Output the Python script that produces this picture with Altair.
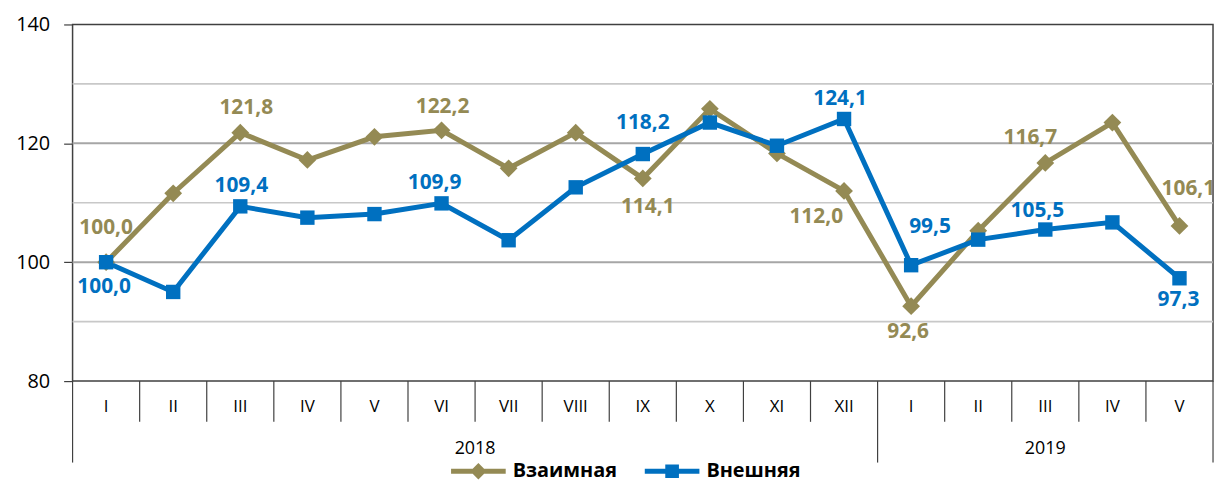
import altair as alt
import pandas as pd

# ---------------- data ----------------
months = ["I", "II", "III", "IV", "V", "VI", "VII", "VIII", "IX", "X", "XI", "XII",
          "I", "II", "III", "IV", "V"]
years = ["2018"] * 12 + ["2019"] * 5
vzaim = [100.0, 111.6, 121.8, 117.2, 121.1, 122.2, 115.8, 121.8, 114.1, 125.8, 118.3,
         112.0, 92.6, 105.3, 116.7, 123.5, 106.1]
vnesh = [100.0, 95.0, 109.4, 107.5, 108.1, 109.9, 103.7, 112.6, 118.2, 123.5, 119.6,
         124.1, 99.5, 103.8, 105.5, 106.7, 97.3]
series_names = ["Взаимная", "Внешняя"]
colors = ["#948A54", "#0070C0"]
labeled_idx = [0, 2, 5, 8, 11, 12, 14, 16]
# label placement offsets in pixels (style)
vz_dx = [0, 6, 1, 5, -28, -3, -15, 9]
vz_dy = [-34, -25, -23, 29, 26, 26, -25, -37]
vn_dx = [-2, 1, -7, 0, -4, 19, -8, -1]
vn_dy = [25, -20, -20, -31, -20, -38, -19, 22]
y_ticks = [80, 100, 120, 140]
major_grid = [100, 120]
minor_grid = [90, 110, 130]

W, H = 1148, 359
FONT = "Open Sans"

# ---------------- tables ----------------
n = len(months)
rows = []
for i in range(n):
    rows.append({"idx": i, "value": vzaim[i], "series": series_names[0]})
for i in range(n):
    rows.append({"idx": i, "value": vnesh[i], "series": series_names[1]})
df = pd.DataFrame(rows)

lab_rows = []
for k, i in enumerate(labeled_idx):
    lab_rows.append({"idx": i, "value": vzaim[i], "series": series_names[0],
                     "text": f"{vzaim[i]:.1f}".replace(".", ","), "dx": vz_dx[k], "dy": vz_dy[k]})
    lab_rows.append({"idx": i, "value": vnesh[i], "series": series_names[1],
                     "text": f"{vnesh[i]:.1f}".replace(".", ","), "dx": vn_dx[k], "dy": vn_dy[k]})
df_lab = pd.DataFrame(lab_rows)

df_cat = pd.DataFrame({"idx": list(range(n)), "month": months, "year": years})

bounds = []
for b in range(n + 1):
    long = b == 0 or b == n or years[b] != years[b - 1]
    bounds.append({"b": b - 0.5, "long": long})
df_b = pd.DataFrame(bounds)

df_grid = pd.DataFrame({"g": major_grid + minor_grid,
                        "major": [True] * len(major_grid) + [False] * len(minor_grid)})

# ---------------- scales ----------------
xs = alt.Scale(domain=[-0.5, n - 0.5], nice=False, zero=False)
ys = alt.Scale(domain=[80, 140], nice=False, zero=False)
yaxis = alt.Axis(values=y_ticks, title=None, grid=False, domain=False, ticks=True,
                 tickSize=9, tickColor="#404040", tickWidth=1.2, labelFontSize=20,
                 labelFont=FONT, labelColor="#000000", labelPadding=14)
cscale = alt.Scale(domain=series_names, range=colors)

diamond_line = "M-1,-0.09L1,-0.09L1,0.09L-1,0.09Z M0,-0.3L0.3,0L0,0.3L-0.3,0Z"
square_line = "M-1,-0.09L1,-0.09L1,0.09L-1,0.09Z M-0.25,-0.25L0.25,-0.25L0.25,0.25L-0.25,0.25Z"

leg = alt.Legend(
    title=None, orient="none", legendX=381, legendY=422, direction="horizontal",
    symbolSize=3025, symbolStrokeWidth=0, symbolOpacity=1, labelFontSize=20,
    labelFont=FONT, labelFontWeight="bold", labelColor="#000000", labelOffset=7,
    columnPadding=27, padding=0)
color_enc = alt.Color("series:N", scale=cscale, legend=leg)

# ---------------- layers ----------------
grid_major = alt.Chart(df_grid).transform_filter("datum.major").mark_rule(
    color="#A6A6A6", strokeWidth=2).encode(y=alt.Y("g:Q", scale=ys, axis=yaxis))
grid_minor = alt.Chart(df_grid).transform_filter("!datum.major").mark_rule(
    color="#C8C8C8", strokeWidth=1.6).encode(y=alt.Y("g:Q", scale=ys, axis=yaxis))

sep_short = alt.Chart(df_b).transform_filter("!datum.long").mark_rule(
    color="#404040", strokeWidth=1.2).encode(
    x=alt.X("b:Q", scale=xs, axis=None), y=alt.value(H), y2=alt.value(H + 41))
sep_long = alt.Chart(df_b).transform_filter("datum.long").mark_rule(
    color="#404040", strokeWidth=1.2).encode(
    x=alt.X("b:Q", scale=xs, axis=None), y=alt.value(H), y2=alt.value(H + 82))

month_txt = alt.Chart(df_cat).mark_text(
    font=FONT, fontSize=17, color="#000000", baseline="middle").encode(
    x=alt.X("idx:Q", scale=xs, axis=None), y=alt.value(H + 26), text="month:N")
year_txt = alt.Chart(df_cat).transform_aggregate(
    c="mean(idx)", groupby=["year"]).mark_text(
    font=FONT, fontSize=18, color="#000000", baseline="middle").encode(
    x=alt.X("c:Q", scale=xs, axis=None), y=alt.value(H + 68), text="year:N")

lines = alt.Chart(df).mark_line(strokeWidth=5).encode(
    x=alt.X("idx:Q", scale=xs, axis=None),
    y=alt.Y("value:Q", scale=ys, axis=yaxis),
    color=color_enc,
    detail="series:N",
    order="idx:Q",
)
pts_vz = alt.Chart(df).transform_filter(f"datum.series == '{series_names[0]}'").mark_point(
    shape="diamond", filled=True, size=320, opacity=1).encode(
    x=alt.X("idx:Q", scale=xs, axis=None),
    y=alt.Y("value:Q", scale=ys, axis=yaxis),
    color=color_enc)
pts_vn = alt.Chart(df).transform_filter(f"datum.series == '{series_names[1]}'").mark_point(
    shape="square", filled=True, size=210, opacity=1).encode(
    x=alt.X("idx:Q", scale=xs, axis=None),
    y=alt.Y("value:Q", scale=ys, axis=yaxis),
    color=color_enc)

labels = alt.Chart(df_lab).mark_text(
    font=FONT, fontSize=21, fontWeight="bold", baseline="middle", align="center",
    dx=alt.expr("datum.dx"), dy=alt.expr("datum.dy")).encode(
    x=alt.X("idx:Q", scale=xs, axis=None),
    y=alt.Y("value:Q", scale=ys, axis=yaxis),
    text="text:N",
    color=color_enc)

legend_layer = alt.Chart(df).transform_filter("false").mark_point(
    filled=True, strokeWidth=0).encode(
    color=color_enc,
    shape=alt.Shape("series:N", scale=alt.Scale(domain=series_names,
                                                 range=[diamond_line, square_line]),
                    legend=leg),
)

chart = alt.layer(
    grid_minor, grid_major, sep_short, sep_long, month_txt, year_txt,
    lines, pts_vz, pts_vn, labels, legend_layer,
).properties(
    width=W, height=H,
    autosize=alt.AutoSizeParams(type="none"),
    padding={"left": 65, "top": 15, "right": 3, "bottom": 101},
).configure(
    background="#ffffff"
).configure_view(
    stroke="#404040", strokeWidth=1.5
)

chart.save("out.html", embed_options={"renderer": "svg", "actions": False})
